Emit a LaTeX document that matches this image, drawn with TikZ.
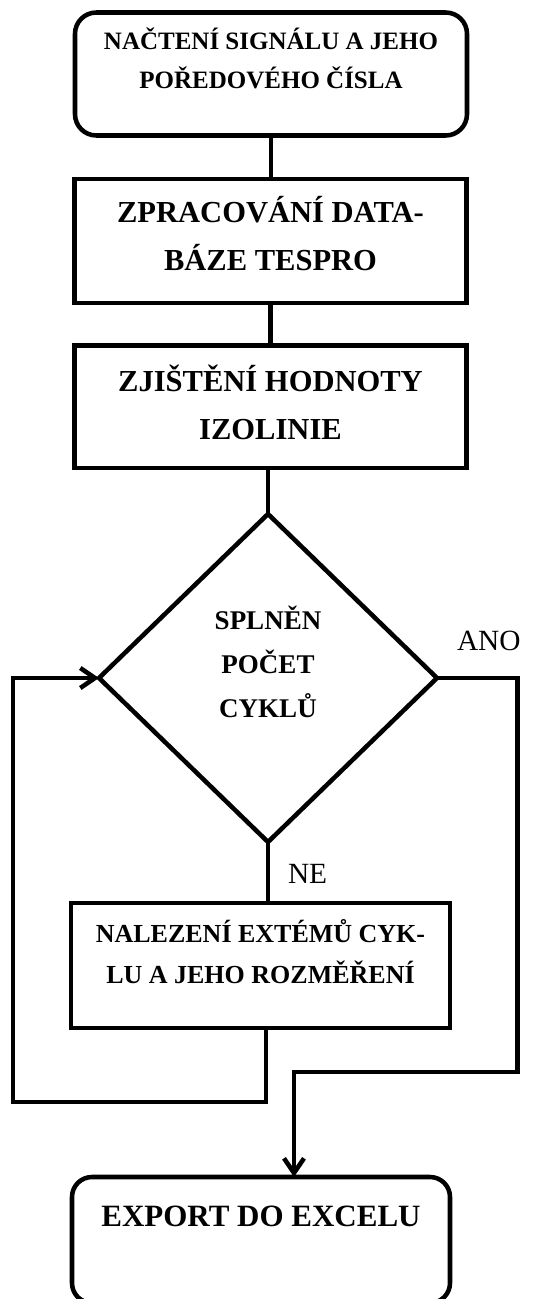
\documentclass[tikz,border=0pt]{standalone}
\usepackage{fontspec}
\setmainfont{Liberation Serif}
\usetikzlibrary{shapes.geometric,arrows.meta}

\begin{document}
\begin{tikzpicture}[x=0.75pt,y=-0.75pt,
  every node/.style={inner sep=0pt,outer sep=0pt},
  flow/.style={line width=3.4pt},
  procbox/.style={draw,line width=3.4pt,rectangle},
  termbox/.style={draw,line width=3.4pt,rectangle,rounded corners=16pt},
  decbox/.style={draw,line width=3.4pt,diamond,minimum width=253.5pt,minimum height=246pt},
  branch/.style={font=\fontsize{22pt}{26pt}\selectfont},
  tip/.style={-{Straight Barb[length=11pt,width=15pt]}}
]
\useasboundingbox (0,0) rectangle (541,1299);

% start
\node[termbox] (b1) at (271,74)
  {\parbox[c][92.25pt][t]{294pt}{\centering\fontsize{18.75pt}{29.25pt}\selectfont\bfseries
   \rule{0pt}{28.1pt}NAČTENÍ SIGNÁLU A JEHO\\POŘEDOVÉHO ČÍSLA\par}};

% processing steps
\node[procbox] (b2) at (270.5,241)
  {\parbox[c][93pt][t]{294pt}{\centering\fontsize{22.9pt}{36pt}\selectfont\bfseries
   \rule{0pt}{32.25pt}ZPRACOVÁNÍ DATA-\\BÁZE TESPRO\par}};

\node[procbox] (b3) at (270.5,406.75)
  {\parbox[c][91.9pt][t]{294pt}{\centering\fontsize{22.9pt}{36pt}\selectfont\bfseries
   \rule{0pt}{34.5pt}ZJIŠTĚNÍ HODNOTY\\IZOLINIE\par}};

% loop condition
\node[decbox] (dia) at (268,678)
  {\parbox[c][127.5pt][t]{90pt}{\centering\fontsize{20.25pt}{33pt}\selectfont\bfseries
   \rule{0pt}{27pt}SPLNĚN\\POČET\\CYKLŮ\par}};

% loop body
\node[procbox] (b4) at (260.5,965.5)
  {\parbox[c][93.75pt][t]{284.25pt}{\centering\fontsize{19.5pt}{30.75pt}\selectfont\bfseries
   \rule{0pt}{29.25pt}NALEZENÍ EXTÉMŮ CYK-\\LU A JEHO ROZMĚŘENÍ\par}};

% end (runs past the lower edge of the page)
\node[termbox,rounded corners=15pt] (b5) at (261,1240)
  {\parbox[c][94.5pt][t]{283.5pt}{\centering\fontsize{23.25pt}{30pt}\selectfont\bfseries
   \rule{0pt}{36.75pt}EXPORT DO EXCELU\par}};

% branch labels
\node[branch,anchor=base west] (ano) at (457,650) {ANO};
\node[branch,anchor=base west] (ne) at (288,883) {NE};

% route points
\coordinate (lpA) at (266,1102);
\coordinate (lpB) at (13,1102);
\coordinate (rtA) at (517.5,1072);
\coordinate (rtB) at (294,1072);

% straight connections
\draw[flow] (b1.south) -- (b1.south |- b2.north);
\draw[flow] (b2.south) -- (b2.south |- b3.north);
\draw[flow] (b3.south -| dia.north) -- (dia.north);
\draw[flow] (dia.south) -- (dia.south |- b4.north);

% back to the condition
\draw[flow,tip] (b4.south -| lpA) -- (lpA) -- (lpB) |- (dia.west);

% exit when done
\draw[flow,tip] (dia.east) -| (rtA) -- (rtB) -- (rtB |- b5.north);
\end{tikzpicture}
\end{document}
